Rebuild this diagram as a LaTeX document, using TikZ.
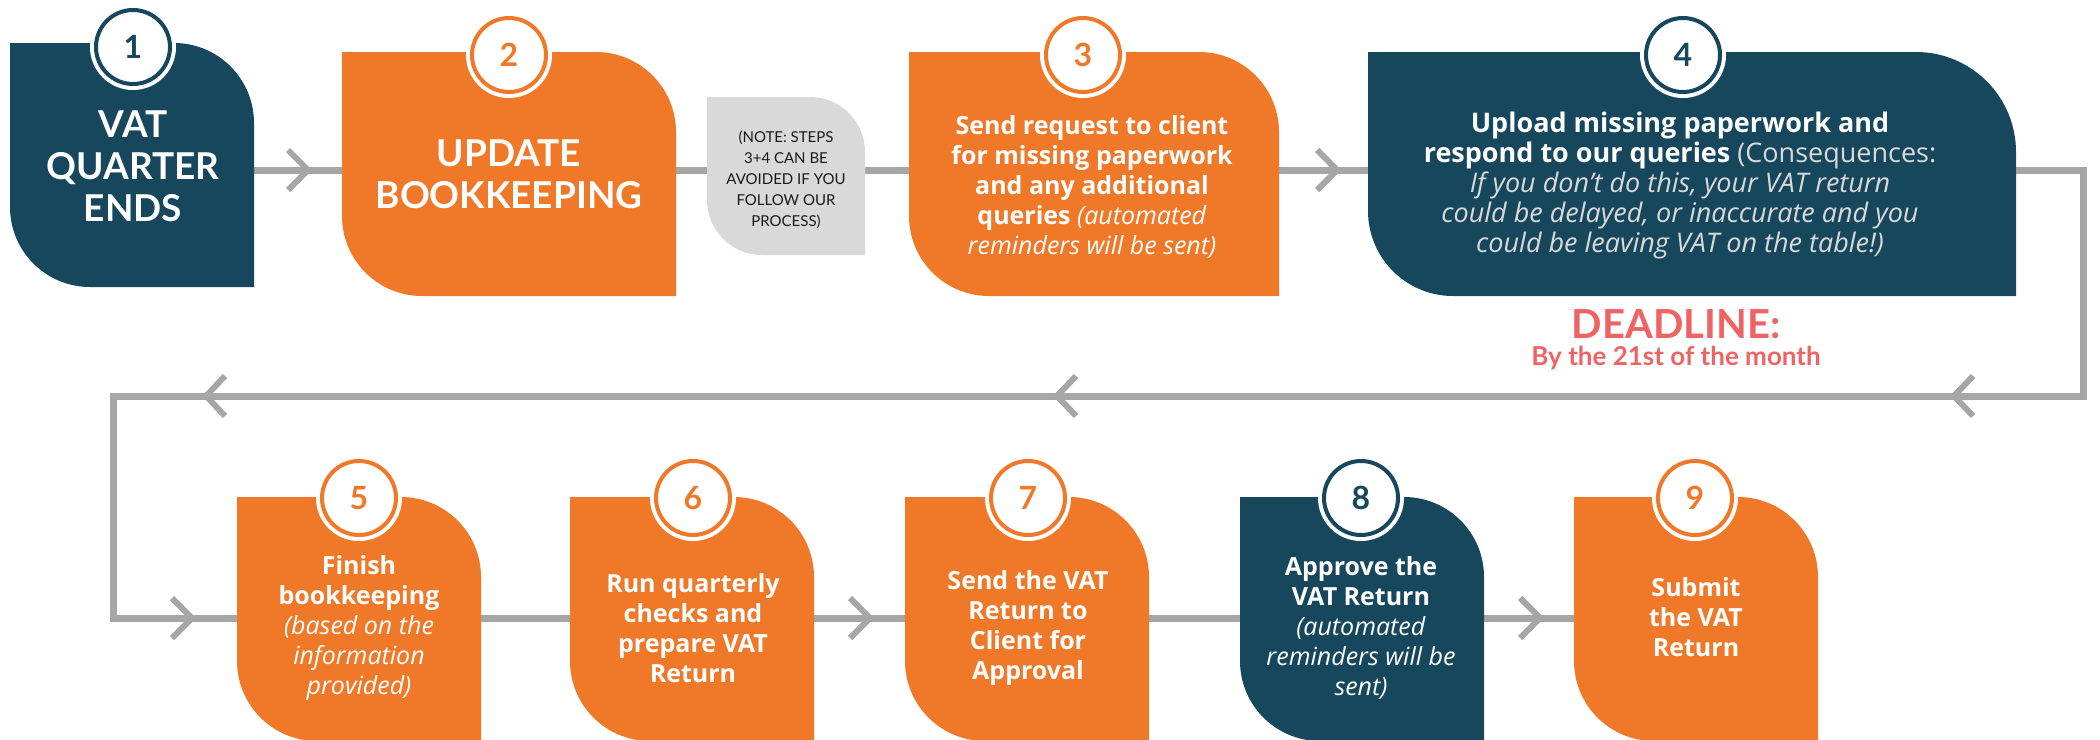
\documentclass[tikz,border=0pt]{standalone}
\usepackage{fontspec}
\setmainfont{Lato}
\newfontfamily\bodyfont{Open Sans}
\usetikzlibrary{calc}
\definecolor{navy}{HTML}{17475C}
\definecolor{orng}{HTML}{F07829}
\definecolor{lgray}{HTML}{A6A6A6}
\definecolor{notegray}{HTML}{D9D9D9}
\definecolor{deadred}{HTML}{EE6363}
\definecolor{conseq}{HTML}{D9D9D9}
\definecolor{notetext}{HTML}{1A1A1A}
\pgfdeclarelayer{lines}\pgfdeclarelayer{shapes}
\pgfsetlayers{lines,shapes,main}
\tikzset{
 box/.style={rectangle, inner sep=0pt, outer sep=0pt, minimum height=244pt},
 numc/.style={circle, minimum size=74pt, inner sep=0pt, fill=white, draw=#1, line width=4pt, text=#1,
   font=\fontsize{32}{32}\selectfont\bfseries, preaction={draw=white, line width=12pt}},
 conn/.style={draw=lgray, line width=7pt, line join=miter},
 chevron/.style={draw=lgray, line width=6pt},
 btext/.style={text=white, align=center, font=\bodyfont\fontsize{25}{30}\selectfont, inner sep=0pt},
}
\newcommand\stepfill[4]{%
 \fill[#2] (#1.north west) -- ([xshift=-#3]#1.north east)
   arc[start angle=90,end angle=0,radius=#3] -- (#1.south east)
   -- ([xshift=#4]#1.south west) arc[start angle=270,end angle=180,radius=#4] -- cycle;}
\begin{document}
\begin{tikzpicture}[x=1pt,y=-1pt]
\useasboundingbox (0,0) rectangle (2100,739);
% box geometry
\node[box, minimum width=244pt] (b1) at (132,165) {};
\node[box, minimum width=334pt] (b2) at (509,174) {};
\node[box, minimum width=158pt, minimum height=158pt] (nt) at (786,176) {};
\node[box, minimum width=370pt] (b3) at (1094,174) {};
\node[box, minimum width=648pt] (b4) at (1692,174) {};
\node[box, minimum width=244pt] (b5) at (359,619) {};
\node[box, minimum width=244pt] (b6) at (692,619) {};
\node[box, minimum width=244pt] (b7) at (1027,619) {};
\node[box, minimum width=244pt] (b8) at (1362,619) {};
\node[box, minimum width=244pt] (b9) at (1696,619) {};
\coordinate (r1) at (0,170);
\coordinate (r2) at (0,618);
\coordinate (tr) at (2083,170);
\coordinate (brc) at (2083,396);
\coordinate (blc) at (113,396);
\coordinate (llc) at (113,618);
\begin{pgfonlayer}{lines}
\draw[conn] (b1.center |- r1) -- (tr) -- (brc) -- (blc) -- (llc) -- (b9.center |- r2);
\draw[chevron] (288,150) -- (308,170) -- (288,190);
\draw[chevron] (1317,150) -- (1337,170) -- (1317,190);
\draw[chevron] (1973,376) -- (1954,396) -- (1973,416);
\draw[chevron] (1076,376) -- (1057,396) -- (1076,416);
\draw[chevron] (225,376) -- (206,396) -- (225,416);
\draw[chevron] (172,598) -- (192,618) -- (172,638);
\draw[chevron] (850,598) -- (870,618) -- (850,638);
\draw[chevron] (1520,598) -- (1540,618) -- (1520,638);
\end{pgfonlayer}
\begin{pgfonlayer}{shapes}
\stepfill{b1}{navy}{80pt}{80pt}
\stepfill{b2}{orng}{80pt}{80pt}
\stepfill{nt}{notegray}{55pt}{55pt}
\stepfill{b3}{orng}{80pt}{80pt}
\stepfill{b4}{navy}{100pt}{85pt}
\stepfill{b5}{orng}{80pt}{80pt}
\stepfill{b6}{orng}{80pt}{80pt}
\stepfill{b7}{orng}{80pt}{80pt}
\stepfill{b8}{navy}{80pt}{80pt}
\stepfill{b9}{orng}{80pt}{80pt}
\end{pgfonlayer}
% number circles
\node[numc=navy] (c1) at (133,47) {1};
\node[numc=orng] (c2) at (509,55) {2};
\node[numc=orng] (c3) at (1083,55) {3};
\node[numc=navy] (c4) at (1683,55) {4};
\node[numc=orng] (c5) at (359,498) {5};
\node[numc=orng] (c6) at (693,498) {6};
\node[numc=orng] (c7) at (1028,498) {7};
\node[numc=navy] (c8) at (1361,498) {8};
\node[numc=orng] (c9) at (1695,498) {9};
% texts
\node[btext, font=\fontsize{37}{42}\selectfont\bfseries] (t1) at (133,166) {VAT\\QUARTER\\ENDS};
\node[btext, font=\fontsize{37}{42}\selectfont\bfseries] (t2) at (509,174) {UPDATE\\BOOKKEEPING};
\node[btext, text=notetext, font=\fontsize{15}{21}\selectfont] (tn) at (786,180) {(NOTE: STEPS\\3+4 CAN BE\\AVOIDED IF YOU\\FOLLOW OUR\\PROCESS)};
\node[btext] (t3) at (1092,187) {\textbf{Send request to client}\\\textbf{for missing paperwork}\\\textbf{and any additional}\\\textbf{queries} \textit{(automated}\\\textit{reminders will be sent)}};
\node[btext, font=\bodyfont\fontsize{27}{30}\selectfont] (t4) at (1680,185) {\textbf{Upload missing paperwork and}\\\textbf{respond to our queries} {\color{conseq}(Consequences:}\\{\color{conseq}\itshape If you don’t do this, your VAT return}\\{\color{conseq}\itshape could be delayed, or inaccurate and you}\\{\color{conseq}\itshape could be leaving VAT on the table!)}};
\node[text=deadred, font=\fontsize{40}{42}\selectfont\bfseries, inner sep=0pt] (dl) at (1676,324) {DEADLINE:};
\node[text=deadred, font=\fontsize{26}{28}\selectfont\bfseries, inner sep=0pt] (dd) at (1676,358) {By the 21st of the month};
\node[btext] (t5) at (359,628) {\textbf{Finish}\\\textbf{bookkeeping}\\\textit{(based on the}\\\textit{information}\\\textit{provided)}};
\node[btext, font=\bodyfont\fontsize{25}{30}\selectfont\bfseries] (t6) at (693,628) {Run quarterly\\checks and\\prepare VAT\\Return};
\node[btext, font=\bodyfont\fontsize{25}{30}\selectfont\bfseries] (t7) at (1028,628) {Send the VAT\\Return to\\Client for\\Approval};
\node[btext] (t8) at (1361,628) {\textbf{Approve the}\\\textbf{VAT Return}\\\textit{(automated}\\\textit{reminders will be}\\\textit{sent)}};
\node[btext, font=\bodyfont\fontsize{25}{30}\selectfont\bfseries] (t9) at (1696,617) {Submit\\the VAT\\Return};
\end{tikzpicture}
\end{document}
